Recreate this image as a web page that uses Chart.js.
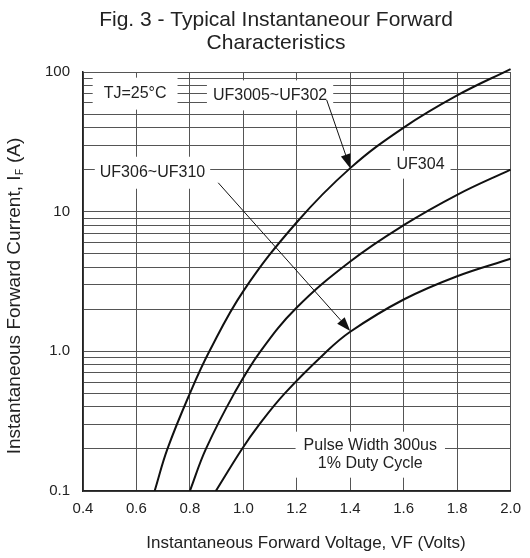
<!DOCTYPE html>
<html>
<head>
<meta charset="utf-8">
<script src="https://cdn.jsdelivr.net/npm/chart.js@4/dist/chart.umd.min.js"></script>
<style>
  body { margin: 0; background: #fff; }
  canvas { display: block; }
</style>
</head>
<body>
<canvas id="chart" width="530" height="558"></canvas>
<script>
// Forward voltage (V) and current (A)
const uf3005V = [0.668, 0.716, 0.80, 0.873, 1.0, 1.2, 1.4, 1.6, 1.8, 2.0];
const uf3005A = [0.1, 0.2, 0.5, 1.0, 2.7, 8.4, 20.5, 40, 68, 105];

const uf304V = [0.80, 0.86, 0.966, 1.064, 1.2, 1.4, 1.6, 1.8, 2.0];
const uf304A = [0.1, 0.2, 0.5, 1.0, 2.06, 4.4, 8.0, 13.2, 20];

const uf306V = [0.897, 0.995, 1.06, 1.155, 1.3, 1.4, 1.6, 1.8, 2.0];
const uf306A = [0.1, 0.2, 0.3, 0.5, 0.95, 1.38, 2.35, 3.45, 4.6];

const xTicks = [0.4, 0.6, 0.8, 1.0, 1.2, 1.4, 1.6, 1.8, 2.0];
const yDecades = [0.1, 1, 10];
const yLabels = { 0.1: "0.1", 1: "1.0", 10: "10", 100: "100" };

// text notes on the plot, placed in data units (volts, amps)
const notes = [
  { lines: ["TJ=25°C"], x: 0.595, y: 70, padX: 11, padY: 13 },
  { lines: ["UF3005~UF302"], x: 1.10, y: 68, padX: 6, padY: 12 },
  { lines: ["UF306~UF310"], x: 0.66, y: 19, padX: 5, padY: 13 },
  { lines: ["UF304"], x: 1.663, y: 21.7, padX: 6, padY: 11 },
  { lines: ["Pulse Width 300us", "1% Duty Cycle"], x: 1.475, y: 0.182, padX: 8, padY: 11 }
];
const arrows = [
  { from: [1.312, 63], to: [1.4, 20.5] },
  { from: [0.906, 16.1], to: [1.4, 1.4] }
];

const font = "'Liberation Sans', Arial, sans-serif";

function points(xs, ys) {
  return xs.map((x, i) => ({ x: x, y: ys[i] }));
}

function yGrid() {
  const vals = [];
  yDecades.forEach(d => {
    for (let k = 1; k <= 9; k++) vals.push(+(d * k).toPrecision(3));
  });
  vals.push(100);
  return vals;
}

function curve(data) {
  return {
    data: data,
    borderColor: '#111',
    borderWidth: 2,
    pointRadius: 0,
    fill: false,
    tension: 0.4,
    clip: { left: 0, top: 5, right: 3, bottom: 0 }
  };
}

function drawArrow(ctx, x0, y0, x1, y1) {
  const ang = Math.atan2(y1 - y0, x1 - x0);
  const len = 14, half = 5;
  ctx.beginPath();
  ctx.moveTo(x0, y0);
  ctx.lineTo(x1 - Math.cos(ang) * len, y1 - Math.sin(ang) * len);
  ctx.lineWidth = 1;
  ctx.strokeStyle = '#111';
  ctx.stroke();
  ctx.beginPath();
  ctx.moveTo(x1, y1);
  ctx.lineTo(x1 - Math.cos(ang) * len - Math.sin(ang) * half, y1 - Math.sin(ang) * len + Math.cos(ang) * half);
  ctx.lineTo(x1 - Math.cos(ang) * len + Math.sin(ang) * half, y1 - Math.sin(ang) * len - Math.cos(ang) * half);
  ctx.closePath();
  ctx.fillStyle = '#111';
  ctx.fill();
}

const extras = {
  id: 'extras',
  beforeDatasetsDraw(chart) {
    const { ctx, scales: { x, y } } = chart;
    ctx.save();
    ctx.font = '16px ' + font;
    ctx.textAlign = 'center';
    ctx.textBaseline = 'middle';
    notes.forEach(n => {
      const cx = x.getPixelForValue(n.x);
      const cy = y.getPixelForValue(n.y);
      const lh = 18;
      const w = Math.max(...n.lines.map(t => ctx.measureText(t).width));
      const h = lh * n.lines.length;
      ctx.fillStyle = '#fff';
      ctx.fillRect(cx - w / 2 - n.padX, cy - h / 2 - n.padY + 6, w + 2 * n.padX, h + 2 * n.padY - 12);
      ctx.fillStyle = '#222';
      n.lines.forEach((t, i) => {
        ctx.fillText(t, cx, cy - h / 2 + lh * (i + 0.5));
      });
    });
    ctx.restore();
  },
  afterDatasetsDraw(chart) {
    const { ctx, scales: { x, y } } = chart;
    ctx.save();
    arrows.forEach(a => {
      drawArrow(ctx,
        x.getPixelForValue(a.from[0]), y.getPixelForValue(a.from[1]),
        x.getPixelForValue(a.to[0]), y.getPixelForValue(a.to[1]));
    });
    ctx.restore();
  },
  afterDraw(chart) {
    const { ctx } = chart;
    ctx.save();
    ctx.fillStyle = '#222';
    ctx.textAlign = 'center';
    ctx.textBaseline = 'middle';
    // title
    ctx.font = '21px ' + font;
    ctx.fillText('Fig. 3 - Typical Instantaneour Forward', 276, 20);
    ctx.fillText('Characteristics', 276, 43);
    // x axis title
    ctx.font = '17px ' + font;
    ctx.fillText('Instantaneous Forward Voltage, VF (Volts)', 306, 543);
    // y axis title with subscript F
    ctx.translate(15, 296);
    ctx.rotate(-Math.PI / 2);
    const main = 'Instantaneous Forward Current, I';
    const tail = ' (A)';
    ctx.font = '19px ' + font;
    const wMain = ctx.measureText(main).width;
    const wTail = ctx.measureText(tail).width;
    ctx.font = '10px ' + font;
    const wSub = ctx.measureText('F').width + 1;
    const start = -(wMain + wSub + wTail) / 2;
    ctx.textAlign = 'left';
    ctx.font = '19px ' + font;
    ctx.fillText(main, start, 0);
    ctx.font = '10px ' + font;
    ctx.fillText('F', start + wMain + 0.5, 5);
    ctx.font = '19px ' + font;
    ctx.fillText(tail, start + wMain + wSub, 0);
    ctx.restore();
  }
};

const ctx = document.getElementById('chart').getContext('2d');
new Chart(ctx, {
  type: 'line',
  data: {
    datasets: [
      curve(points(uf3005V, uf3005A)),
      curve(points(uf304V, uf304A)),
      curve(points(uf306V, uf306A))
    ]
  },
  options: {
    responsive: false,
    animation: false,
    layout: { padding: { top: 72, right: 16, bottom: 0, left: 0 } },
    plugins: { legend: { display: false }, tooltip: { enabled: false }, title: { display: false } },
    scales: {
      x: {
        type: 'linear',
        min: 0.4,
        max: 2.0,
        afterBuildTicks(s) { s.ticks = xTicks.map(v => ({ value: v })); },
        afterFit(s) { s.height = 67; },
        ticks: {
          autoSkip: false,
          maxRotation: 0,
          padding: 9,
          color: '#222',
          font: { family: font, size: 15 },
          callback: v => v.toFixed(1)
        },
        grid: { color: '#555', lineWidth: 1, tickLength: 0 },
        border: { color: '#222', width: 1.5 }
      },
      y: {
        type: 'logarithmic',
        min: 0.1,
        max: 100,
        afterBuildTicks(s) { s.ticks = yGrid().map(v => ({ value: v })); },
        afterFit(s) { s.width = 83; },
        ticks: {
          autoSkip: false,
          padding: 13,
          color: '#222',
          font: { family: font, size: 15 },
          callback: v => yLabels[v] || ''
        },
        grid: { color: '#555', lineWidth: 1, tickLength: 0 },
        border: { color: '#222', width: 1.5 }
      }
    }
  },
  plugins: [extras]
});
</script>
</body>
</html>
